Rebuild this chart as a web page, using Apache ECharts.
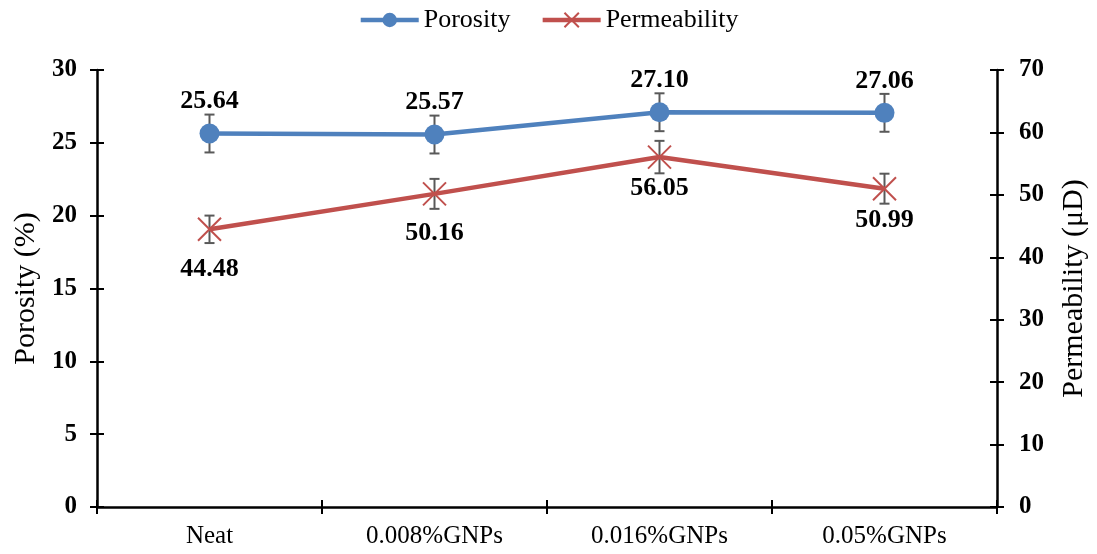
<!DOCTYPE html>
<html>
<head>
<meta charset="utf-8">
<script src="https://cdn.jsdelivr.net/npm/echarts@6/dist/echarts.min.js"></script>
<style>
  html, body { margin: 0; padding: 0; background: #fff; }
  #chart { width: 1097px; height: 554px; }
</style>
</head>
<body>
<div id="chart"></div>
<script>
// Samples and measured values
const categories = ['Neat', '0.008%GNPs', '0.016%GNPs', '0.05%GNPs'];
const porosity = [25.64, 25.57, 27.10, 27.06];
const porosityErr = [1.3, 1.3, 1.3, 1.3];
const permeability = [44.48, 50.16, 56.05, 50.99];
const permeabilityErr = [2.2, 2.4, 2.6, 2.4];

const SERIF = '"Liberation Serif", "Times New Roman", serif';
const BLUE = '#4F81BD';
const RED = '#C0504D';
const AXIS = '#000';

function errorData(values, errs) {
  return values.map((v, i) => [i, v - errs[i], v + errs[i]]);
}

// Vertical whisker with caps at both ends
function renderErrorBar(params, api) {
  const x = api.value(0);
  const lo = api.coord([x, api.value(1)]);
  const hi = api.coord([x, api.value(2)]);
  const half = 5;
  const style = { stroke: '#595959', lineWidth: 2, fill: null };
  return {
    type: 'group',
    children: [
      { type: 'line', shape: { x1: hi[0], y1: hi[1], x2: lo[0], y2: lo[1] }, style },
      { type: 'line', shape: { x1: hi[0] - half, y1: hi[1], x2: hi[0] + half, y2: hi[1] }, style },
      { type: 'line', shape: { x1: lo[0] - half, y1: lo[1], x2: lo[0] + half, y2: lo[1] }, style }
    ]
  };
}

const tickLabel = { fontFamily: SERIF, fontWeight: 'bold', fontSize: 25, color: '#000' };
const valueLabel = { fontFamily: SERIF, fontWeight: 'bold', fontSize: 26, color: '#000' };

// Permeability labels sit below their points; the two right-hand ones a little closer
const permLabelGap = [14, 14, 6, 6];

const chart = echarts.init(document.getElementById('chart'), null, { renderer: 'canvas' });

chart.setOption({
  animation: false,
  backgroundColor: '#fff',
  legend: {
    top: 2,
    left: 'center',
    itemWidth: 58,
    itemHeight: 18,
    itemGap: 30,
    textStyle: { fontFamily: SERIF, fontSize: 26, color: '#000' },
    data: [
      { name: 'Porosity', lineStyle: { width: 4.5 } },
      { name: 'Permeability', lineStyle: { width: 4.5 } }
    ]
  },
  grid: { left: 97, right: 100, top: 70, bottom: 47 },
  xAxis: [
    {
      type: 'category',
      data: categories,
      position: 'bottom',
      boundaryGap: true,
      axisLine: { lineStyle: { color: AXIS, width: 2.5 } },
      axisTick: { show: true, length: 7, lineStyle: { color: AXIS, width: 2 } },
      axisLabel: { fontFamily: SERIF, fontSize: 25, color: '#000', margin: 17 }
    },
    {
      type: 'category',
      data: categories,
      position: 'bottom',
      boundaryGap: true,
      axisLine: { show: false },
      axisTick: { show: true, inside: true, length: 7, lineStyle: { color: AXIS, width: 2 } },
      axisLabel: { show: false }
    }
  ],
  yAxis: [
    {
      type: 'value',
      position: 'left',
      min: 0, max: 30, interval: 5,
      name: 'Porosity (%)',
      nameLocation: 'middle',
      nameGap: 53,
      nameTextStyle: { fontFamily: SERIF, fontSize: 30, color: '#000' },
      axisLine: { show: true, lineStyle: { color: AXIS, width: 2.5 } },
      axisTick: { show: true, length: 7, lineStyle: { color: AXIS, width: 2 } },
      axisLabel: Object.assign({ margin: 20 }, tickLabel),
      splitLine: { show: false }
    },
    {
      type: 'value',
      position: 'right',
      min: 0, max: 70, interval: 10,
      name: 'Permeability (μD)',
      nameLocation: 'middle',
      nameGap: 62,
      nameRotate: 90,
      nameTextStyle: { fontFamily: SERIF, fontSize: 30, color: '#000' },
      axisLine: { show: true, lineStyle: { color: AXIS, width: 2.5 } },
      axisTick: { show: true, length: 7, lineStyle: { color: AXIS, width: 2 } },
      axisLabel: Object.assign({ margin: 22 }, tickLabel),
      splitLine: { show: false }
    },
    {
      type: 'value',
      position: 'left',
      min: 0, max: 30, interval: 5,
      axisLine: { show: false },
      axisTick: { show: true, inside: true, length: 7, lineStyle: { color: AXIS, width: 2 } },
      axisLabel: { show: false },
      splitLine: { show: false }
    },
    {
      type: 'value',
      position: 'right',
      min: 0, max: 70, interval: 10,
      axisLine: { show: false },
      axisTick: { show: true, inside: true, length: 7, lineStyle: { color: AXIS, width: 2 } },
      axisLabel: { show: false },
      splitLine: { show: false }
    }
  ],
  series: [
    {
      name: 'PorosityError',
      type: 'custom',
      yAxisIndex: 0,
      z: 1,
      renderItem: renderErrorBar,
      data: errorData(porosity, porosityErr),
      encode: { x: 0, y: [1, 2] },
      silent: true
    },
    {
      name: 'PermeabilityError',
      type: 'custom',
      yAxisIndex: 1,
      z: 1,
      renderItem: renderErrorBar,
      data: errorData(permeability, permeabilityErr),
      encode: { x: 0, y: [1, 2] },
      silent: true
    },
    {
      name: 'Porosity',
      type: 'line',
      yAxisIndex: 0,
      z: 3,
      data: porosity,
      symbol: 'circle',
      symbolSize: 20,
      lineStyle: { color: BLUE, width: 4.5 },
      itemStyle: { color: BLUE },
      label: {
        show: true,
        position: 'top',
        distance: 9,
        formatter: p => p.value.toFixed(2),
        ...valueLabel
      }
    },
    {
      name: 'Permeability',
      type: 'line',
      yAxisIndex: 1,
      z: 4,
      data: permeability.map((v, i) => ({ value: v, label: { distance: permLabelGap[i] } })),
      symbol: 'path://M0,0L10,10M10,0L0,10',
      symbolSize: 23,
      lineStyle: { color: RED, width: 4.5 },
      itemStyle: { color: RED, borderColor: RED, borderWidth: 2 },
      label: {
        show: true,
        position: 'bottom',
        formatter: p => p.value.toFixed(2),
        ...valueLabel
      }
    }
  ]
});
</script>
</body>
</html>
